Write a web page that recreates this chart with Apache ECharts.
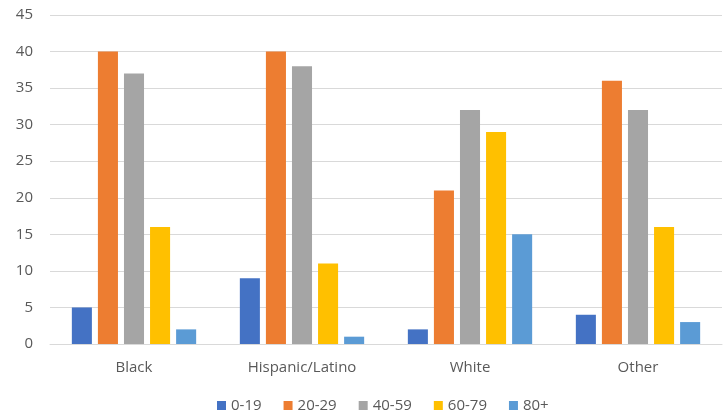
<!DOCTYPE html>
<html>
<head>
<meta charset="utf-8">
<script src="https://cdn.jsdelivr.net/npm/echarts@6/dist/echarts.min.js"></script>
<style>
  html, body { margin: 0; padding: 0; background: #fff; }
  #chart { width: 727px; height: 417px; }
</style>
</head>
<body>
<div id="chart"></div>
<script>
// Groups along the x axis
const categories = ['Black', 'Hispanic/Latino', 'White', 'Other'];

// Age-band series, one value per group
const age0to19 = [5, 9, 2, 4];
const age20to29 = [40, 40, 21, 36];
const age40to59 = [37, 38, 32, 32];
const age60to79 = [16, 11, 29, 16];
const age80plus = [2, 1, 15, 3];

const seriesNames = ['0-19', '20-29', '40-59', '60-79', '80+'];
const seriesData = [age0to19, age20to29, age40to59, age60to79, age80plus];
const colors = ['#4472C4', '#ED7D31', '#A5A5A5', '#FFC000', '#5B9BD5'];

const yTicks = { min: 0, max: 45, interval: 5 };

const chart = echarts.init(document.getElementById('chart'));
const font = '"Open Sans", "Noto Sans", sans-serif';

chart.setOption({
  animation: false,
  textStyle: { fontFamily: font },
  color: colors,
  grid: { left: 50, right: 5, top: 15, bottom: 73, containLabel: false },
  legend: {
    bottom: -1,
    left: 212,
    itemWidth: 9,
    itemHeight: 9,
    itemGap: 22,
    icon: 'rect',
    textStyle: { color: '#595959', fontSize: 15, fontFamily: font },
    data: seriesNames
  },
  xAxis: {
    type: 'category',
    data: categories,
    axisLine: { lineStyle: { color: '#D9D9D9', width: 1 } },
    axisTick: { show: false },
    axisLabel: { color: '#595959', fontSize: 15, margin: 16 }
  },
  yAxis: {
    type: 'value',
    min: yTicks.min,
    max: yTicks.max,
    interval: yTicks.interval,
    axisLine: { show: false },
    axisTick: { show: false },
    axisLabel: { color: '#595959', fontSize: 15, margin: 17 },
    splitLine: { lineStyle: { color: '#D9D9D9', width: 1 } }
  },
  series: seriesNames.map((name, i) => ({
    name,
    type: 'bar',
    data: seriesData[i],
    barGap: '30%',
    barCategoryGap: '26%',
    itemStyle: { color: colors[i] }
  }))
});
</script>
</body>
</html>
